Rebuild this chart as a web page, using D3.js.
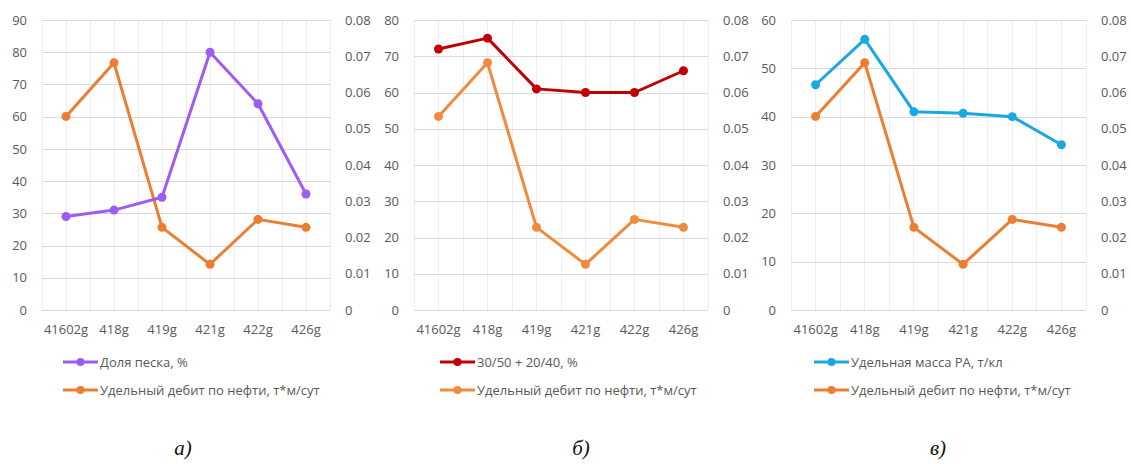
<!DOCTYPE html>
<html><head><meta charset="utf-8">
<script src="https://cdn.jsdelivr.net/npm/d3@7"></script>
<style>body{margin:0;background:#fff}svg{display:block}</style>
</head><body>
<svg id="c" width="1131" height="464"></svg>
<script>
const categories = ["41602g","418g","419g","421g","422g","426g"];
const sandShare = [29, 31, 35, 80, 64, 36];
const fraction = [72, 75, 61, 60, 60, 66];
const specMass = [46.6, 56, 41, 40.7, 40, 34.2];
const oilRate = [0.0534, 0.0682, 0.0228, 0.0126, 0.0250, 0.0228];
const leftTicksA = [0,10,20,30,40,50,60,70,80,90];
const leftTicksB = [0,10,20,30,40,50,60,70,80];
const leftTicksC = [0,10,20,30,40,50,60];
const rightTicks = [0,0.01,0.02,0.03,0.04,0.05,0.06,0.07,0.08];
const legendA = ["Доля песка, %","Удельный дебит по нефти, т*м/сут"];
const legendB = ["30/50 + 20/40, %","Удельный дебит по нефти, т*м/сут"];
const legendC = ["Удельная масса РА, т/кл","Удельный дебит по нефти, т*м/сут"];
const captions = ["а)","б)","в)"];

const svg = d3.select("#c");
const FONT = "'Open Sans', sans-serif";
const textCol = "#595959";

const panels = [
  {x0:42, x1:330, lmax:90, lticks:leftTicksA, main:sandShare, col:"#9E5CF2", ocol:"#ED7D31", leg:legendA, legX:63, cap:captions[0], capX:183},
  {x0:414, x1:708, lmax:80, lticks:leftTicksB, main:fraction, col:"#C00000", ocol:"#F18A3D", leg:legendB, legX:440, cap:captions[1], capX:581},
  {x0:791, x1:1086, lmax:60, lticks:leftTicksC, main:specMass, col:"#19A8E2", ocol:"#ED7D31", leg:legendC, legX:814, cap:captions[2], capX:938}
];

const yTop = 20, yBot = 310;

panels.forEach(p => {
  const g = svg.append("g");
  const x = d3.scaleBand().domain(categories).range([p.x0, p.x1]);
  const yl = d3.scaleLinear().domain([0, p.lmax]).range([yBot, yTop]);
  const yr = d3.scaleLinear().domain([0, 0.08]).range([yBot, yTop]);
  const bw = x.bandwidth();
  // vertical minor grid (at band edges and centers)
  const vx = [];
  categories.forEach(c => { vx.push(x(c)); vx.push(x(c) + bw/2); });
  vx.push(p.x1);
  g.selectAll("line.vg").data(vx).join("line")
    .attr("x1", d=>d).attr("x2", d=>d).attr("y1", yTop).attr("y2", yBot)
    .attr("stroke", "#EEEEEE").attr("stroke-width", 1).attr("shape-rendering","crispEdges");
  // horizontal grid
  g.selectAll("line.hg").data(p.lticks).join("line")
    .attr("x1", p.x0).attr("x2", p.x1).attr("y1", d=>Math.round(yl(d))+0.5).attr("y2", d=>Math.round(yl(d))+0.5)
    .attr("stroke", "#D9D9D9").attr("stroke-width", 1);
  // left axis labels
  const la = g.append("g").attr("transform", `translate(${p.x0-15},0)`)
    .call(d3.axisLeft(yl).tickValues(p.lticks).tickSize(0).tickPadding(0).tickFormat(d3.format("d")));
  la.select(".domain").remove();
  la.selectAll("text").attr("font-family", FONT).attr("font-size", 13).attr("fill", textCol);
  // right axis labels
  const ra = g.append("g").attr("transform", `translate(${p.x1+15},0)`)
    .call(d3.axisRight(yr).tickValues(rightTicks).tickSize(0).tickPadding(0).tickFormat(d => d===0 ? "0" : d3.format(".2f")(d)));
  ra.select(".domain").remove();
  ra.selectAll("text").attr("font-family", FONT).attr("font-size", 13).attr("fill", textCol);
  // x axis labels
  const xa = g.append("g").attr("transform", `translate(0,${yBot})`)
    .call(d3.axisBottom(x).tickSize(0).tickPadding(15));
  xa.select(".domain").remove();
  xa.selectAll("text").attr("font-family", FONT).attr("font-size", 13).attr("fill", textCol);

  const cx = d => x(d) + bw/2;
  // oil rate line
  const lineR = d3.line().x((d,i)=>cx(categories[i])).y(d=>yr(d));
  g.append("path").datum(oilRate).attr("d", lineR).attr("fill","none")
    .attr("stroke", p.ocol).attr("stroke-width", 3).attr("stroke-linejoin","round");
  g.selectAll("circle.o").data(oilRate).join("circle")
    .attr("cx",(d,i)=>cx(categories[i])).attr("cy", d=>yr(d)).attr("r",4.5).attr("fill", p.ocol);
  // main line
  const lineL = d3.line().x((d,i)=>cx(categories[i])).y(d=>yl(d));
  g.append("path").datum(p.main).attr("d", lineL).attr("fill","none")
    .attr("stroke", p.col).attr("stroke-width", 3).attr("stroke-linejoin","round");
  g.selectAll("circle.m").data(p.main).join("circle")
    .attr("cx",(d,i)=>cx(categories[i])).attr("cy", d=>yl(d)).attr("r",4.5).attr("fill", p.col);

  // legend
  const legCols = [p.col, p.ocol];
  const legY = [362, 390];
  p.leg.forEach((t, i) => {
    const lg = g.append("g");
    lg.append("line").attr("x1", p.legX).attr("x2", p.legX+35).attr("y1", legY[i]).attr("y2", legY[i])
      .attr("stroke", legCols[i]).attr("stroke-width", 3);
    lg.append("circle").attr("cx", p.legX+17.5).attr("cy", legY[i]).attr("r", 4).attr("fill", legCols[i]);
    lg.append("text").attr("x", p.legX+37).attr("y", legY[i]).attr("dy","0.35em")
      .attr("font-family", FONT).attr("font-size", 13).attr("fill", textCol).text(t);
  });
  // caption
  svg.append("text").attr("x", p.capX).attr("y", 455).attr("text-anchor","middle")
    .attr("font-family", "'Liberation Serif', serif").attr("font-style","italic").attr("font-size", 21)
    .attr("fill", "#111").text(p.cap);
});
</script>
</body></html>
